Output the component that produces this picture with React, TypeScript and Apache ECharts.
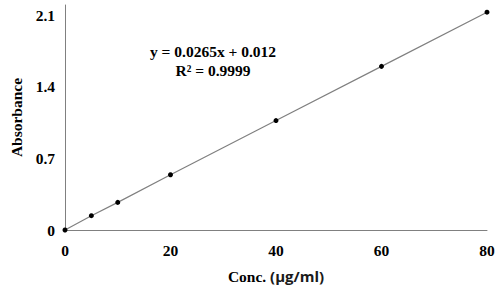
import React, { useEffect, useRef } from "react";
import * as echarts from "echarts";

const concentrations = [0, 5, 10, 20, 40, 60, 80];
const absorbances = [0.0, 0.14, 0.27, 0.54, 1.07, 1.6, 2.13];
const equationLines = ["y = 0.0265x + 0.012", "R² = 0.9999"];
const xTitle = "Conc. ";
const xUnit = "(μg/ml)";
const yTitle = "Absorbance";

export default function App() {
  const ref = useRef<HTMLDivElement>(null);
  useEffect(() => {
    if (!ref.current) return;
    const chart = echarts.init(ref.current, undefined, { renderer: "svg" });
    const serif = "'Liberation Serif', 'Times New Roman', serif";
    chart.setOption({
      animation: false,
      backgroundColor: "#ffffff",
      grid: { left: 65, right: 17, top: 5, bottom: 57, containLabel: false },
      xAxis: {
        type: "value",
        min: 0,
        max: 80,
        interval: 20,
        name: "{a|" + xTitle + "}{b|" + xUnit + "}",
        nameLocation: "middle",
        nameGap: 38,
        nameTextStyle: {
          rich: {
            a: { fontFamily: serif, fontWeight: "bold", fontSize: 15.5, color: "#000" },
            b: { fontFamily: "'Open Sans', 'Noto Sans', sans-serif", fontWeight: "bold", fontSize: 15, color: "#1a1a1a" },
          },
        },
        axisLine: { show: true, lineStyle: { color: "#808080", width: 1 } },
        axisTick: { show: false },
        splitLine: { show: false },
        axisLabel: { fontFamily: serif, fontWeight: "bold", fontSize: 15.5, color: "#000", margin: 12 },
      },
      yAxis: {
        type: "value",
        min: 0,
        max: 2.2,
        interval: 0.7,
        name: yTitle,
        nameLocation: "middle",
        nameGap: 40,
        nameTextStyle: { fontFamily: serif, fontWeight: "bold", fontSize: 15.5, color: "#000" },
        axisLine: { show: true, lineStyle: { color: "#808080", width: 1 } },
        axisTick: { show: false },
        splitLine: { show: false },
        axisLabel: { fontFamily: serif, fontWeight: "bold", fontSize: 15.5, color: "#000", margin: 10, showMaxLabel: false },
      },
      graphic: [
        {
          type: "text",
          x: 213,
          y: 42,
          style: {
            text: equationLines.join("\n"),
            font: "bold 15.5px " + serif,
            fill: "#000",
            align: "center",
            verticalAlign: "top",
            lineHeight: 19,
          },
        },
      ],
      series: [
        {
          type: "line",
          data: concentrations.map((c, i) => [c, absorbances[i]]),
          symbol: "circle",
          symbolSize: 5,
          itemStyle: { color: "#000" },
          lineStyle: { color: "#808080", width: 1.2 },
        },
      ],
    });
    return () => chart.dispose();
  }, []);
  return <div ref={ref} style={{ width: 504, height: 289, position: "absolute", left: 0, top: 0 }} />;
}
